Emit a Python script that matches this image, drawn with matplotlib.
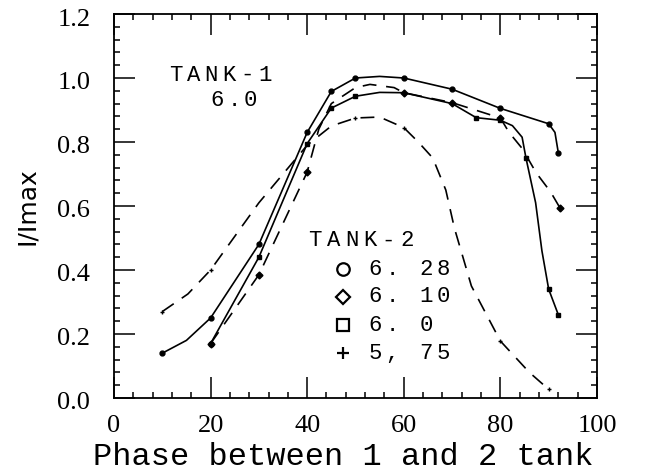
import matplotlib
matplotlib.use("Agg")
import matplotlib.pyplot as plt
from matplotlib.ticker import MultipleLocator
from matplotlib.transforms import ScaledTranslation

# TANK-2 = 6.28  (solid, circles)
ph_628 = [10, 15, 20, 30, 40, 45, 50, 55, 60, 70, 80, 90, 91.3, 92]
i_628 = [0.14, 0.18, 0.25, 0.48, 0.83, 0.958, 1.0, 1.005, 1.0, 0.965, 0.905, 0.857, 0.83, 0.766]
mk_628 = [0, 2, 3, 4, 5, 6, 8, 9, 10, 11, 13]

# TANK-2 = 6.10  (dashed, diamonds)
ph_610 = [20, 30, 40, 42.4, 45, 50, 53, 58, 60, 70, 80, 81.8, 84.5, 87.4, 90.4, 92.3]
i_610 = [0.17, 0.385, 0.706, 0.84, 0.92, 0.97, 0.98, 0.97, 0.954, 0.923, 0.875, 0.83, 0.78, 0.704, 0.644, 0.595]
mk_610 = [0, 1, 2, 8, 9, 10, 15]

# TANK-2 = 6.0  (solid, squares)
ph_600 = [20, 30, 40, 45, 50, 55, 60, 70, 75, 80, 82.5, 84.5, 85.3, 87.3, 88.6, 90, 91, 92]
i_600 = [0.17, 0.44, 0.795, 0.906, 0.943, 0.955, 0.954, 0.92, 0.876, 0.868, 0.851, 0.815, 0.75, 0.61, 0.46, 0.34, 0.30, 0.26]
mk_600 = [0, 1, 2, 3, 4, 8, 9, 12, 15, 17]

# TANK-2 = 5.75  (dashed, plus)
ph_575 = [10, 15.3, 20, 30, 40, 45, 50, 55, 60, 63, 66, 68.7, 70.5, 74, 80, 86, 90]
i_575 = [0.27, 0.325, 0.40, 0.61, 0.79, 0.85, 0.875, 0.878, 0.845, 0.80, 0.75, 0.65, 0.53, 0.35, 0.178, 0.08, 0.027]
mk_575 = [0, 2, 6, 8, 14, 16]

legend_labels = ["6. 28", "6. 10", "6. 0", "5, 75"]
legend_marks = ["o", "D", "s", "+"]

plt.rcParams["lines.scale_dashes"] = False
mono = "Liberation Mono"

fig = plt.figure(figsize=(6.65, 4.73), dpi=100)
ax = fig.add_axes([0.1714, 0.1586, 0.7263, 0.8118])

dash = (0, (10, 7))
kw = dict(color="black", lw=1.2, ms=3.5, mew=1.0, mfc="black")
ax.plot(ph_628, i_628, "-", marker="o", markevery=mk_628, **kw)
ax.plot(ph_610, i_610, ls=dash, marker="D", markevery=mk_610, **kw)
ax.plot(ph_600, i_600, "-", marker="s", markevery=mk_600, **kw)
ax.plot(ph_575, i_575, ls=dash, marker="+", markevery=mk_575, **kw)

ax.set_xlim(0, 100)
ax.set_ylim(0, 1.2)
ax.set_xticks(range(0, 101, 20))
ax.set_yticks([0, 0.2, 0.4, 0.6, 0.8, 1.0, 1.2])
ax.set_yticklabels(["0.0", "0.2", "0.4", "0.6", "0.8", "1.0", "1.2"])
ax.xaxis.set_minor_locator(MultipleLocator(4))
ax.yaxis.set_minor_locator(MultipleLocator(0.04))
ax.tick_params(which="both", direction="in", top=True, right=True, width=1.1)
ax.tick_params(which="major", length=15)
ax.tick_params(which="minor", length=4)
ax.tick_params(axis="x", pad=12)
ax.tick_params(axis="y", pad=17)
down = ScaledTranslation(0, -3 / 100, fig.dpi_scale_trans)
for lab in ax.get_xticklabels() + ax.get_yticklabels():
    lab.set_fontfamily("Liberation Serif")
    lab.set_fontsize(19)
for lab in ax.get_yticklabels():
    lab.set_transform(lab.get_transform() + down)
for s in ax.spines.values():
    s.set_linewidth(1.3)

ax.set_xlabel("Phase between 1 and 2 tank", fontfamily=mono, fontsize=23)
ax.xaxis.set_label_coords(0.475, -0.115)
ax.set_ylabel("I/Imax", fontfamily="DejaVu Sans", fontsize=18, labelpad=13)


def spaced(x, y, s, step, size=16):
    for k, ch in enumerate(s):
        ax.annotate(ch, xy=(x, y), xycoords="axes fraction", xytext=(k * step, 0),
                    textcoords="offset points", ha="center", va="center",
                    fontfamily=mono, fontsize=size)


spaced(0.128, 0.841, "TANK-1", 12.8)
spaced(0.214, 0.776, "6.0", 12)
spaced(0.416, 0.409, "TANK-2", 13.2)

row_y = [0.335, 0.263, 0.190, 0.117]
for ry, lab, m in zip(row_y, legend_labels, legend_marks):
    ax.plot([0.474], [ry], marker=m, transform=ax.transAxes, color="black",
            mfc="none", ms=9 if m != "D" else 7.5, mew=1.6, clip_on=False)
    spaced(0.54, ry, lab, 12.3)

fig.savefig("out.png", dpi=100)
